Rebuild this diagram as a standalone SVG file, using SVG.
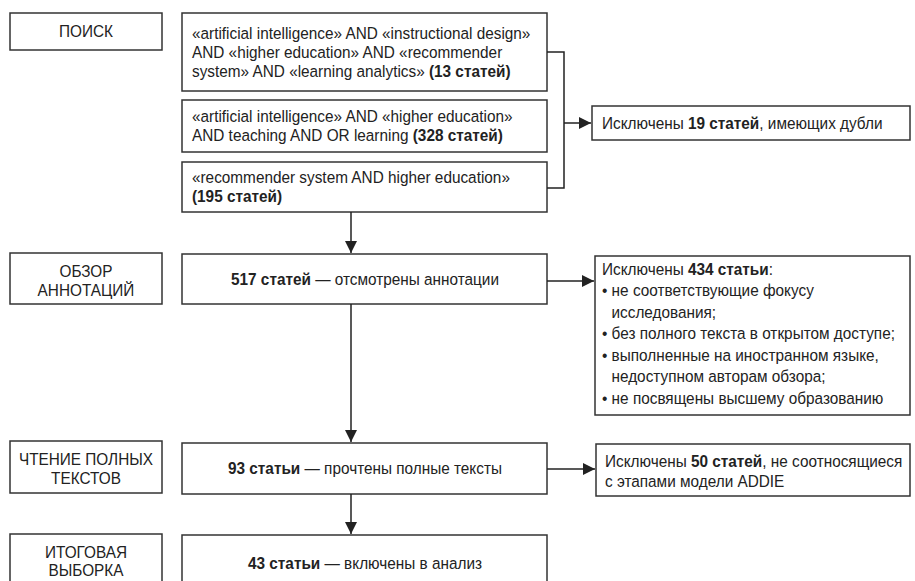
<svg xmlns="http://www.w3.org/2000/svg" width="915" height="581" viewBox="0 0 915 581">
<defs>
<marker id="ah" viewBox="0 0 12 12" refX="12" refY="6" markerWidth="12" markerHeight="12" markerUnits="userSpaceOnUse" orient="auto">
<path d="M0,0 L12,6 L0,12 Z" fill="#222"/>
</marker>
<style>
rect{fill:#fff;stroke:#333;stroke-width:1.5}
text{font-family:"Liberation Sans","Arial",sans-serif;font-size:16.5px;fill:#222}
.c{text-anchor:middle}
.b{font-weight:bold}
.ln{fill:none;stroke:#222;stroke-width:1.5}
</style>
</defs>
<g id="label-search"><rect x="10" y="13" width="152" height="37"/><g transform="scale(0.93 1)"><text class="c" x="92.47" y="37.5">ПОИСК</text></g></g>
<g id="q1"><rect x="182" y="13" width="365" height="78"/><g transform="scale(0.93 1)">
<text x="206.45" y="39">«artificial intelligence» AND «instructional design»</text>
<text x="206.45" y="58">AND «higher education» AND «recommender</text>
<text x="206.45" y="77">system» AND «learning analytics» <tspan class="b">(13 статей)</tspan></text></g></g>
<g id="q2"><rect x="182" y="100" width="365" height="52"/><g transform="scale(0.93 1)">
<text x="206.45" y="122.5">«artificial intelligence» AND «higher education»</text>
<text x="206.45" y="141.5">AND teaching AND OR learning <tspan class="b">(328 статей)</tspan></text></g></g>
<g id="q3"><rect x="182" y="162" width="365" height="50"/><g transform="scale(0.93 1)">
<text x="206.45" y="183">«recommender system AND higher education»</text>
<text x="206.45" y="202" class="b">(195 статей)</text></g></g>
<g id="ex1"><rect x="592" y="106" width="318" height="34"/><g transform="scale(0.93 1)">
<text x="647.31" y="129">Исключены <tspan class="b">19 статей</tspan>, имеющих дубли</text></g></g>
<g id="label-review"><rect x="10" y="253" width="152" height="51"/><g transform="scale(0.93 1)"><text class="c" x="92.47" y="277">ОБЗОР</text><text class="c" x="92.47" y="296">АННОТАЦИЙ</text></g></g>
<g id="n517"><rect x="182" y="254" width="365" height="50"/><g transform="scale(0.93 1)"><text class="c" x="392.47" y="285.5"><tspan class="b">517 статей</tspan> — отсмотрены аннотации</text></g></g>
<g id="ex2"><rect x="595" y="256" width="315" height="159"/><g transform="scale(0.93 1)">
<text x="647.31" y="275">Исключены <tspan class="b">434 статьи</tspan>:</text>
<text x="647.31" y="296.5">• не соответствующие фокусу</text>
<text x="657.53" y="318">исследования;</text>
<text x="647.31" y="339.5">• без полного текста в открытом доступе;</text>
<text x="647.31" y="361">• выполненные на иностранном языке,</text>
<text x="657.53" y="382.5">недоступном авторам обзора;</text>
<text x="647.31" y="404">• не посвящены высшему образованию</text></g></g>
<g id="label-read"><rect x="10" y="441" width="152" height="52"/><g transform="scale(0.93 1)"><text class="c" x="92.47" y="465">ЧТЕНИЕ ПОЛНЫХ</text><text class="c" x="92.47" y="484">ТЕКСТОВ</text></g></g>
<g id="n93"><rect x="182" y="443" width="365" height="51"/><g transform="scale(0.93 1)"><text class="c" x="392.47" y="474.5"><tspan class="b">93 статьи</tspan> — прочтены полные тексты</text></g></g>
<g id="ex3"><rect x="596" y="444" width="314" height="52"/><g transform="scale(0.93 1)">
<text x="650.54" y="467">Исключены <tspan class="b">50 статей</tspan>, не соотносящиеся</text>
<text x="650.54" y="487">с этапами модели ADDIE</text></g></g>
<g id="label-final"><rect x="10" y="534" width="152" height="60"/><g transform="scale(0.93 1)"><text class="c" x="92.47" y="558">ИТОГОВАЯ</text><text class="c" x="92.47" y="576.5">ВЫБОРКА</text></g></g>
<g id="n43"><rect x="182" y="535" width="365" height="60"/><g transform="scale(0.93 1)"><text class="c" x="392.47" y="569"><tspan class="b">43 статьи</tspan> — включены в анализ</text></g></g>
<g id="connectors">
<path class="ln" d="M547,52 H564 V188 H547"/>
<path class="ln" d="M564,123 H591" marker-end="url(#ah)"/>
<path class="ln" d="M351,212 V253" marker-end="url(#ah)"/>
<path class="ln" d="M547,281 H594" marker-end="url(#ah)"/>
<path class="ln" d="M351,304 V442" marker-end="url(#ah)"/>
<path class="ln" d="M547,469 H595" marker-end="url(#ah)"/>
<path class="ln" d="M351,494 V534" marker-end="url(#ah)"/>
</g>
</svg>
